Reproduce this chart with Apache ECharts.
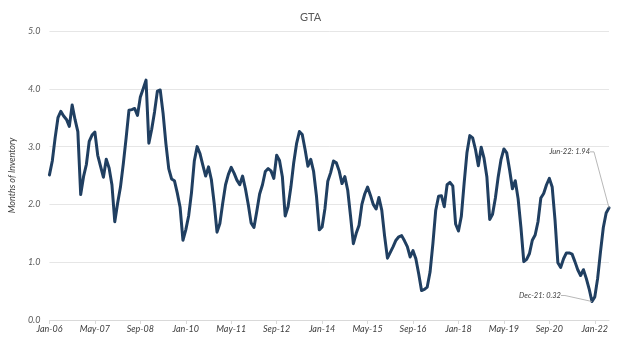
<!DOCTYPE html>
<html>
<head>
<meta charset="utf-8">
<script src="https://cdn.jsdelivr.net/npm/echarts@6/dist/echarts.min.js"></script>
<style>
html,body{margin:0;padding:0;background:#fff;}
#chart{width:621px;height:342px;}
</style>
</head>
<body>
<div id="chart"></div>
<script>
var monthNames = ['Jan','Feb','Mar','Apr','May','Jun','Jul','Aug','Sep','Oct','Nov','Dec'];
var startYear = 2006;
var monthCount = 198;
var categories = [];
for (var k = 0; k < monthCount; k++) {
  var yy = startYear + Math.floor(k / 12);
  categories.push(monthNames[k % 12] + '-' + String(yy).slice(2));
}

var inventory = [
  2.51, 2.75, 3.15, 3.50, 3.61, 3.53, 3.47, 3.35, 3.72, 3.47,
  3.26, 2.17, 2.48, 2.69, 3.09, 3.20, 3.25, 2.85, 2.66, 2.47,
  2.78, 2.63, 2.34, 1.70, 2.02, 2.30, 2.70, 3.15, 3.63, 3.64,
  3.66, 3.54, 3.86, 4.00, 4.15, 3.06, 3.30, 3.60, 3.96, 3.98,
  3.58, 3.05, 2.62, 2.44, 2.41, 2.20, 1.95, 1.38, 1.56, 1.80,
  2.20, 2.75, 3.00, 2.88, 2.68, 2.49, 2.65, 2.43, 2.02, 1.52,
  1.67, 2.02, 2.34, 2.52, 2.64, 2.54, 2.42, 2.34, 2.49, 2.27,
  2.00, 1.68, 1.60, 1.88, 2.18, 2.34, 2.57, 2.62, 2.58, 2.45,
  2.85, 2.76, 2.48, 1.80, 1.96, 2.30, 2.72, 3.05, 3.26, 3.21,
  2.95, 2.66, 2.78, 2.57, 2.15, 1.56, 1.61, 1.93, 2.40, 2.55,
  2.75, 2.72, 2.58, 2.36, 2.48, 2.25, 1.80, 1.32, 1.50, 1.64,
  2.00, 2.18, 2.30, 2.16, 2.00, 1.92, 2.12, 1.90, 1.45, 1.07,
  1.17, 1.27, 1.38, 1.44, 1.46, 1.37, 1.27, 1.09, 1.20, 1.06,
  0.80, 0.51, 0.53, 0.57, 0.83, 1.32, 1.90, 2.14, 2.15, 1.96,
  2.34, 2.38, 2.32, 1.66, 1.54, 1.79, 2.37, 2.90, 3.19, 3.15,
  2.95, 2.67, 2.99, 2.80, 2.48, 1.74, 1.83, 2.11, 2.48, 2.78,
  2.96, 2.89, 2.60, 2.27, 2.41, 2.10, 1.60, 1.01, 1.05, 1.15,
  1.38, 1.47, 1.70, 2.11, 2.19, 2.34, 2.45, 2.30, 1.73, 0.99,
  0.91, 1.06, 1.16, 1.16, 1.14, 1.01, 0.87, 0.77, 0.87, 0.72,
  0.54, 0.32, 0.40, 0.72, 1.18, 1.60, 1.85, 1.94
];

var yTicks = [0, 1, 2, 3, 4, 5];
var annotatedMonths = ['Dec-21', 'Jun-22'];
var annotationOffsets = { 'Dec-21': [-26, -6], 'Jun-22': [-14, -56] };

var seriesData = inventory.map(function (v, i) {
  if (annotatedMonths.indexOf(categories[i]) < 0) return v;
  return {
    value: v,
    label: {
      show: true,
      position: 'left',
      distance: 5,
      formatter: categories[i] + ': ' + v.toFixed(2)
    },
    labelLine: { show: true }
  };
});

var chart = echarts.init(document.getElementById('chart'), null, { renderer: 'canvas' });
chart.setOption({
  animation: false,
  backgroundColor: '#ffffff',
  title: {
    text: 'GTA',
    left: 'center',
    top: 7,
    textStyle: { fontFamily: 'Lato', fontWeight: 'normal', fontSize: 11, color: '#595959' }
  },
  grid: { left: 46, right: 12, top: 31, bottom: 22 },
  xAxis: {
    type: 'category',
    data: categories,
    boundaryGap: false,
    axisLine: { show: true, lineStyle: { color: '#d9d9d9' } },
    axisTick: { show: true, interval: 15, length: 4, lineStyle: { color: '#d9d9d9' } },
    axisLabel: {
      interval: 15,
      margin: 5,
      fontFamily: 'Lato',
      fontStyle: 'italic',
      fontSize: 9,
      color: '#404040'
    },
    splitLine: { show: false }
  },
  yAxis: {
    type: 'value',
    min: yTicks[0],
    max: yTicks[yTicks.length - 1],
    interval: 1,
    name: 'Months of Inventory',
    nameLocation: 'middle',
    nameGap: 30,
    nameTextStyle: { fontFamily: 'Lato', fontStyle: 'italic', fontSize: 9, color: '#404040' },
    axisLine: { show: false },
    axisTick: { show: false },
    axisLabel: {
      margin: 9,
      fontFamily: 'Lato',
      fontStyle: 'italic',
      fontSize: 9,
      color: '#595959',
      formatter: function (v) { return v.toFixed(1); }
    },
    splitLine: { show: true, lineStyle: { color: '#e6e6e6', width: 1 } }
  },
  series: [{
    type: 'line',
    data: seriesData,
    showSymbol: true,
    showAllSymbol: true,
    symbol: 'circle',
    symbolSize: 0.01,
    lineStyle: { color: '#203f61', width: 3, join: 'round', cap: 'round' },
    itemStyle: { color: 'rgba(32,63,97,0)', borderWidth: 0 },
    label: {
      show: false,
      fontFamily: 'Lato',
      fontStyle: 'italic',
      fontSize: 7.5,
      color: '#404040'
    },
    labelLine: { show: false, length2: 4, lineStyle: { color: '#a6a6a6', width: 0.8 } },
    labelLayout: function (params) {
      var off = annotationOffsets[categories[params.dataIndex]];
      if (!off) return {};
      return { dx: off[0], dy: off[1] };
    },
    emphasis: { disabled: true }
  }]
});
</script>
</body>
</html>
